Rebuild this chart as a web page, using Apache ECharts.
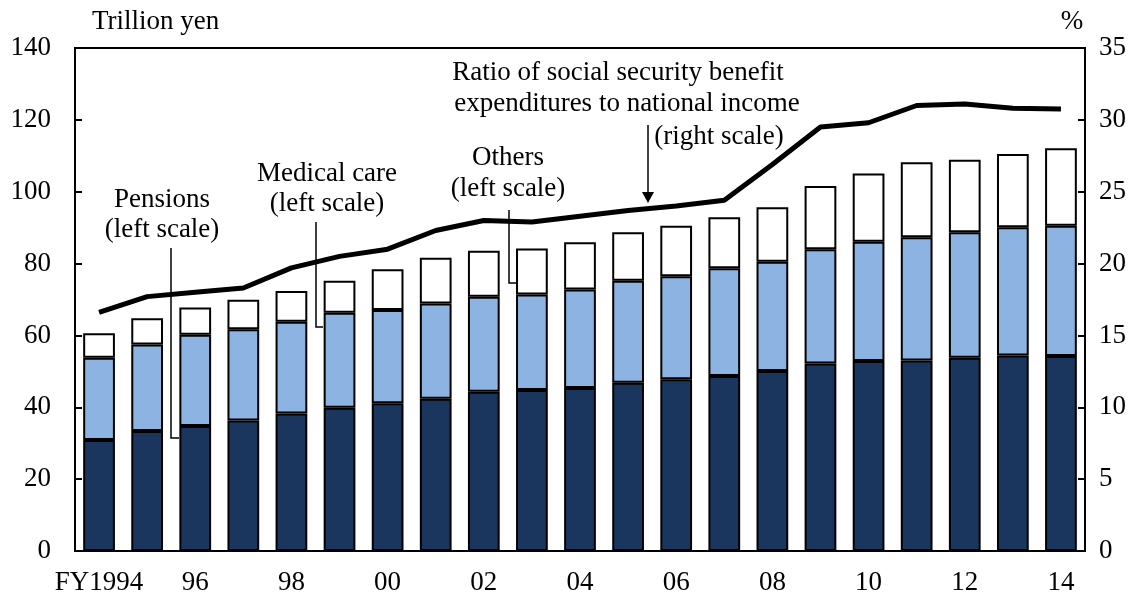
<!DOCTYPE html>
<html><head><meta charset="utf-8">
<script src="https://cdn.jsdelivr.net/npm/echarts@6/dist/echarts.min.js"></script>
<style>html,body{margin:0;padding:0;background:#fff}#c{width:1141px;height:597px}</style>
</head><body><div id="c"></div>
<script>
const categories = ['FY1994','95','96','97','98','99','00','01','02','03','04','05','06','07','08','09','10','11','12','13','14'];
const pensions = [30.9,33.4,34.8,36.3,38.3,39.9,41.1,42.4,44.3,44.8,45.4,46.8,47.8,48.7,50.1,52.2,52.9,53.0,53.8,54.4,54.3];
const medicalTop = [53.8,57.5,60.2,61.7,63.8,66.3,67.1,68.9,70.8,71.4,72.8,75.2,76.5,78.7,80.5,84.0,86.1,87.3,88.7,90.1,90.5];
const totals = [60.6,64.8,67.8,69.9,72.4,75.2,78.4,81.6,83.6,84.2,85.9,88.7,90.5,92.9,95.7,101.6,105.1,108.2,108.9,110.5,112.1];
const ratio = [16.6,17.7,18.0,18.3,19.7,20.5,21.0,22.3,23.0,22.9,23.3,23.7,24.0,24.4,26.9,29.5,29.8,31.0,31.1,30.8,30.75];
const leftTicks = {min:0,max:140,interval:20};
const rightTicks = {min:0,max:35,interval:5};

const medical = medicalTop.map((v,i)=>+(v-pensions[i]).toFixed(2));
const others = totals.map((v,i)=>+(v-medicalTop[i]).toFixed(2));

const FONT = '"Liberation Serif","Times New Roman",serif';
const FS = 27;
const chart = echarts.init(document.getElementById('c'));
const barStyle = (c)=>({color:c,borderColor:'#000',borderWidth:2});
const txt = (x,y,t,align)=>({type:'text',x:x,y:y,style:{text:t,font:FS+'px '+FONT,fill:'#000',textAlign:align||'center',textVerticalAlign:'middle'}});
const ln = (pts)=>({type:'polyline',shape:{points:pts},style:{stroke:'#000',lineWidth:1.5,fill:null}});
chart.setOption({
  animation:false,
  backgroundColor:'#fff',
  grid:{left:75,right:56,top:48,bottom:46,show:true,borderColor:'#000',borderWidth:2,backgroundColor:'transparent'},
  xAxis:{type:'category',data:categories,
    axisLine:{lineStyle:{color:'#000',width:2}},axisTick:{show:false},
    axisLabel:{interval:1,color:'#000',fontFamily:FONT,fontSize:FS,margin:18}},
  yAxis:[
    {type:'value',min:leftTicks.min,max:leftTicks.max,interval:leftTicks.interval,position:'left',
     axisLine:{show:true,lineStyle:{color:'#000',width:2}},
     axisTick:{show:true,inside:true,length:7,lineStyle:{color:'#000',width:2}},
     splitLine:{show:false},
     axisLabel:{color:'#000',fontFamily:FONT,fontSize:FS,margin:24}},
    {type:'value',min:rightTicks.min,max:rightTicks.max,interval:rightTicks.interval,position:'right',
     axisLine:{show:true,lineStyle:{color:'#000',width:2}},
     axisTick:{show:true,inside:true,length:7,lineStyle:{color:'#000',width:2}},
     splitLine:{show:false},
     axisLabel:{color:'#000',fontFamily:FONT,fontSize:FS,margin:14}}
  ],
  series:[
    {name:'Pensions',type:'bar',stack:'s',data:pensions,barWidth:'66%',itemStyle:barStyle('#1A365E')},
    {name:'Medical care',type:'bar',stack:'s',data:medical,itemStyle:barStyle('#8DB3E2')},
    {name:'Others',type:'bar',stack:'s',data:others,itemStyle:barStyle('#FFFFFF')},
    {name:'Ratio',type:'line',yAxisIndex:1,data:ratio,symbol:'none',lineStyle:{color:'#000',width:5},z:5}
  ],
  graphic:[
    txt(92,22,'Trillion yen','left'),
    txt(1072,22,'%','center'),
    txt(162,200,'Pensions'),
    txt(162,230,'(left scale)'),
    ln([[171,248],[171,438],[179,438]]),
    txt(327,174,'Medical care'),
    txt(327,204,'(left scale)'),
    ln([[316,222],[316,327],[323,327]]),
    txt(508,158,'Others'),
    txt(508,189,'(left scale)'),
    ln([[509,210],[509,283],[516,283]]),
    txt(618,73,'Ratio of social security benefit'),
    txt(627,104,'expenditures to national income'),
    txt(719,137,'(right scale)'),
    ln([[648,125],[648,195]]),
    {type:'polygon',shape:{points:[[642,192],[654,192],[648,203]]},style:{fill:'#000'}}
  ]
});
</script></body></html>
